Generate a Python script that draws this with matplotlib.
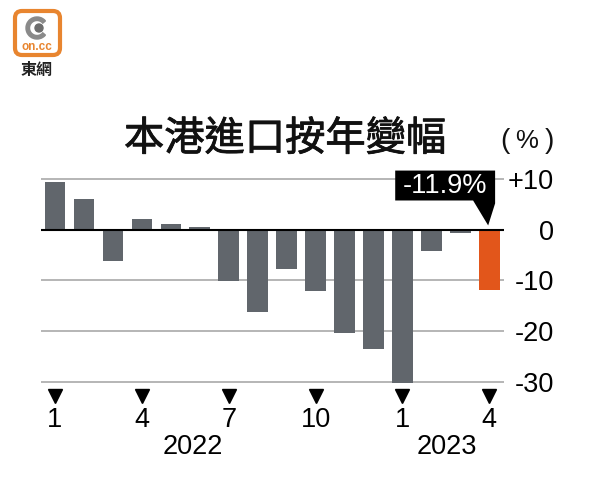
import numpy as np
import matplotlib
matplotlib.use("Agg")
import matplotlib.pyplot as plt
import matplotlib.patheffects as pe
from matplotlib.patches import FancyBboxPatch, Circle, Wedge, Polygon

# data: monthly year-on-year change of HK imports (%), Jan 2022 - Apr 2023
months = ["1", "2", "3", "4", "5", "6", "7", "8", "9", "10", "11", "12",
          "1", "2", "3", "4"]
values = [9.4, 6.0, -6.1, 2.1, 1.2, 0.5, -10.1, -16.3, -7.8, -12.0,
          -20.4, -23.6, -30.2, -4.2, -0.7, -11.9]
tick_months = [0, 3, 6, 9, 12, 15]
years = ["2022", "2023"]
year_pos = [4.75, 13.55]
yticks = [10, 0, -10, -20, -30]
ytick_labels = ["+10", "0", "-10", "-20", "-30"]
title = "本港進口按年變幅"
callout = "-11.9%"

GRAY = "#61666c"
ORANGE = "#e2561b"
FONT = ["Liberation Sans", "DejaVu Sans"]
CJK = ["Noto Sans CJK TC", "DejaVu Sans"]

W, H = 609, 487
fig = plt.figure(figsize=(W / 100, H / 100), dpi=100)

# overlay in pixel coordinates for title / logo
bg = fig.add_axes([0, 0, 1, 1])
bg.set_xlim(0, W)
bg.set_ylim(H, 0)
bg.axis("off")

# logo
bg.add_patch(FancyBboxPatch((15, 11), 45, 44, boxstyle="round,pad=0,rounding_size=7",
                            fc="white", ec="#e8852f", lw=3))
bg.add_patch(Wedge((37, 28), 11, 40, 320, width=3.5, color="#8a8a8a"))
bg.add_patch(Circle((39, 28), 4, color="#6d6d6d"))
bg.text(37, 47, "on.cc", ha="center", va="center", fontsize=8.5,
        fontweight="bold", color="#e8852f", family=FONT)
bg.text(37, 70, "東網", ha="center", va="center", fontsize=11.5,
        fontweight="bold", color="#222222", family=CJK)

# title and unit
bg.text(285, 139, title, ha="center", va="center", fontsize=29,
        color="#111111", family=CJK,
        path_effects=[pe.withStroke(linewidth=0.6, foreground="#111111")])
for ch, px, fs in zip(["(", "%", ")"], [505, 527, 549], [20, 18.5, 20]):
    bg.text(px, 141, ch, ha="center", va="center", fontsize=fs,
            color="#111111", family=FONT)

# main chart
ax = fig.add_axes([40.5 / W, 100 / H, 463.3 / W, 210.5 / H])
ax.set_xlim(-0.5, len(values) - 0.5)
ax.set_ylim(-31, 10.5)

x = np.arange(len(values))
colors = [GRAY] * (len(values) - 1) + [ORANGE]
ax.bar(x, values, width=0.71, color=colors, zorder=2)

for yv in yticks:
    if yv == 0:
        ax.axhline(yv, color="black", lw=1.5, zorder=3)
    else:
        ax.axhline(yv, color="#b5b5b5", lw=1.4, zorder=1)

for s in ax.spines.values():
    s.set_visible(False)
ax.set_xticks([])
ax.yaxis.tick_right()
ax.set_yticks(yticks)
ax.set_yticklabels(ytick_labels, ha="right", fontsize=19.5, family=FONT)
ax.tick_params(axis="y", length=0, pad=36)

# month markers and labels
trans = ax.get_xaxis_transform()
ax.plot(tick_months, [-0.043] * len(tick_months), "v", color="black",
        markersize=9.5, transform=trans, clip_on=False)
for i in tick_months:
    ax.text(i, -0.157, months[i], ha="center", va="center", fontsize=19.5,
            family=FONT, transform=trans)
for yr, p in zip(years, year_pos):
    ax.text(p, -0.285, yr, ha="center", va="center", fontsize=19.5,
            family=FONT, transform=trans)

# callout for the latest value
last = len(values) - 1
box = [(last - 3.25, 11.67), (last + 0.2, 11.67), (last + 0.2, 5.2),
       (last - 0.04, 0.85), (last - 0.56, 5.77), (last - 3.25, 5.77)]
ax.add_patch(Polygon(box, closed=True, fc="black", ec="none",
                     clip_on=False, zorder=4))
ax.text(last - 1.53, 8.6, callout, ha="center", va="center", fontsize=19.5,
        color="white", family=FONT, zorder=5)

fig.savefig("out.png", dpi=100, facecolor="white")
